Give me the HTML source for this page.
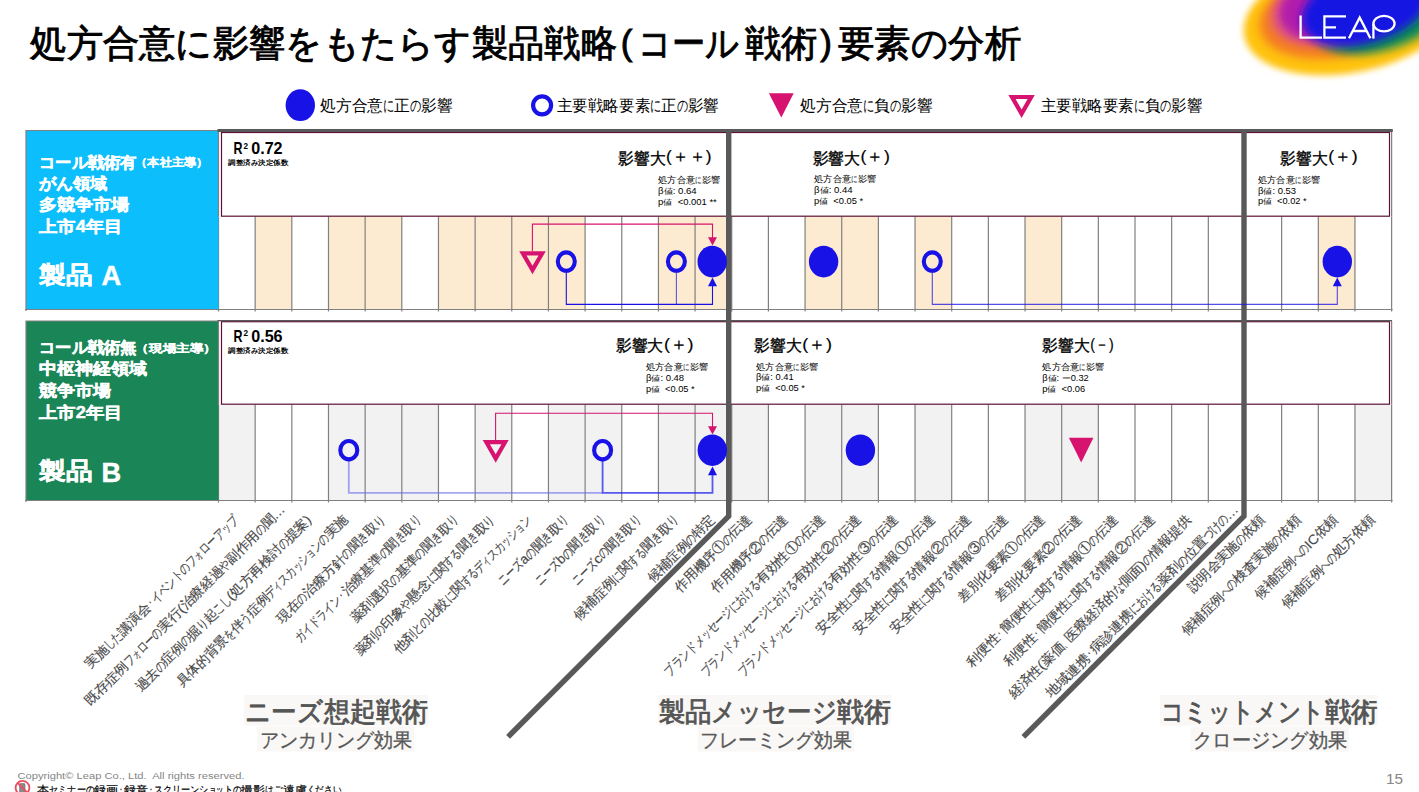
<!DOCTYPE html>
<html lang="ja"><head><meta charset="utf-8"><title>slide</title>
<style>
html,body{margin:0;padding:0;background:#fff;}
body{width:1419px;height:792px;overflow:hidden;font-family:"Liberation Sans",sans-serif;}
svg{display:block;font-family:"Liberation Sans",sans-serif;}
text{white-space:pre;}
</style></head><body>
<svg width="1419" height="792" viewBox="0 0 1419 792">
<defs>
<filter id="b1" x="-30%" y="-30%" width="160%" height="160%"><feGaussianBlur stdDeviation="7"/></filter>
<filter id="b2" x="-30%" y="-30%" width="160%" height="160%"><feGaussianBlur stdDeviation="5"/></filter>
<filter id="b3" x="-30%" y="-30%" width="160%" height="160%"><feGaussianBlur stdDeviation="4"/></filter>
<filter id="b4" x="-30%" y="-30%" width="160%" height="160%"><feGaussianBlur stdDeviation="3.2"/></filter>
</defs>
<ellipse cx="1352" cy="14" rx="110" ry="58" transform="rotate(-12 1352 14)" fill="#FFC30F" filter="url(#b4)"/>
<ellipse cx="1340" cy="12" rx="82" ry="44" transform="rotate(-13 1340 12)" fill="#F47D22" filter="url(#b2)"/>
<ellipse cx="1378" cy="10" rx="72" ry="41" transform="rotate(-16 1378 10)" fill="#118A58" filter="url(#b3)"/>
<ellipse cx="1343" cy="2" rx="75" ry="40" transform="rotate(-17 1343 2)" fill="#E45C78" filter="url(#b3)"/>
<ellipse cx="1346" cy="0" rx="69" ry="38" transform="rotate(-17 1346 0)" fill="#B21CAC" filter="url(#b3)"/>
<ellipse cx="1366" cy="6" rx="66" ry="37" transform="rotate(-17 1366 6)" fill="#1717E2" filter="url(#b3)"/>
<g fill="none" stroke="#fff" stroke-width="2.3" stroke-linejoin="miter">
<path d="M1300.6 15.4V37.6H1322"/>
<path d="M1346 16.4H1324.4V37.6H1346M1324.4 27.4H1336"/>
<path d="M1349 38.2L1359.7 17.6L1370.4 38.2M1352.6 31H1366.8"/>
<path d="M1373.4 38.6V23.6"/><ellipse cx="1384" cy="23.6" rx="10.6" ry="7.8"/>
</g>
<text x="30.3" y="56.4" font-size="37" fill="#000" font-weight="normal" text-anchor="start" textLength="586.5" lengthAdjust="spacingAndGlyphs" stroke="#000" stroke-width="0.9">処方合意に影響をもたらす製品戦略</text>
<text x="620.8" y="55.4" font-size="35" fill="#000" font-weight="normal" text-anchor="start" stroke="#000" stroke-width="0.9">(</text>
<text x="638.0" y="56.4" font-size="37" fill="#000" font-weight="normal" text-anchor="start" textLength="101.5" lengthAdjust="spacingAndGlyphs" stroke="#000" stroke-width="0.9">コール</text>
<text x="744.5" y="56.4" font-size="37" fill="#000" font-weight="normal" text-anchor="start" textLength="72.5" lengthAdjust="spacingAndGlyphs" stroke="#000" stroke-width="0.9">戦術</text>
<text x="820.3" y="55.4" font-size="35" fill="#000" font-weight="normal" text-anchor="start" stroke="#000" stroke-width="0.9">)</text>
<text x="838.0" y="56.4" font-size="37" fill="#000" font-weight="normal" text-anchor="start" textLength="183.0" lengthAdjust="spacingAndGlyphs" stroke="#000" stroke-width="0.9">要素の分析</text>
<ellipse cx="300.3" cy="105.2" rx="14.7" ry="15.9" fill="#1812E6"/>
<text x="320.3" y="111.0" font-size="15.7" fill="#000" font-weight="normal" textLength="62.7" lengthAdjust="spacingAndGlyphs">処方合意</text>
<text x="383.0" y="111.0" font-size="15.7" fill="#000" font-weight="normal" textLength="11.3" lengthAdjust="spacingAndGlyphs">に</text>
<text x="394.3" y="111.0" font-size="15.7" fill="#000" font-weight="normal" textLength="15.7" lengthAdjust="spacingAndGlyphs">正</text>
<text x="410.0" y="111.0" font-size="15.7" fill="#000" font-weight="normal" textLength="11.3" lengthAdjust="spacingAndGlyphs">の</text>
<text x="421.3" y="111.0" font-size="15.7" fill="#000" font-weight="normal" textLength="31.4" lengthAdjust="spacingAndGlyphs">影響</text>
<ellipse cx="542.1" cy="105.3" rx="9.0" ry="9.0" fill="none" stroke="#1812E6" stroke-width="4.2"/>
<text x="556.9" y="111.0" font-size="15.7" fill="#000" font-weight="normal" textLength="93.2" lengthAdjust="spacingAndGlyphs">主要戦略要素</text>
<text x="650.1" y="111.0" font-size="15.7" fill="#000" font-weight="normal" textLength="11.2" lengthAdjust="spacingAndGlyphs">に</text>
<text x="661.2" y="111.0" font-size="15.7" fill="#000" font-weight="normal" textLength="15.5" lengthAdjust="spacingAndGlyphs">正</text>
<text x="676.8" y="111.0" font-size="15.7" fill="#000" font-weight="normal" textLength="11.2" lengthAdjust="spacingAndGlyphs">の</text>
<text x="687.9" y="111.0" font-size="15.7" fill="#000" font-weight="normal" textLength="31.1" lengthAdjust="spacingAndGlyphs">影響</text>
<path d="M768.9 93.2H793.7L781.3 117.4Z" fill="#D6136E"/>
<text x="800.3" y="111.0" font-size="15.7" fill="#000" font-weight="normal" textLength="62.7" lengthAdjust="spacingAndGlyphs">処方合意</text>
<text x="863.0" y="111.0" font-size="15.7" fill="#000" font-weight="normal" textLength="11.3" lengthAdjust="spacingAndGlyphs">に</text>
<text x="874.3" y="111.0" font-size="15.7" fill="#000" font-weight="normal" textLength="15.7" lengthAdjust="spacingAndGlyphs">負</text>
<text x="890.0" y="111.0" font-size="15.7" fill="#000" font-weight="normal" textLength="11.3" lengthAdjust="spacingAndGlyphs">の</text>
<text x="901.3" y="111.0" font-size="15.7" fill="#000" font-weight="normal" textLength="31.4" lengthAdjust="spacingAndGlyphs">影響</text>
<path fill-rule="evenodd" fill="#D6136E" d="M1008.4 94.9H1034.8L1021.6 118.1Z M1015.6 99.1L1021.6 109.6L1027.6 99.1Z"/>
<text x="1040.5" y="111.0" font-size="15.7" fill="#000" font-weight="normal" textLength="93.0" lengthAdjust="spacingAndGlyphs">主要戦略要素</text>
<text x="1133.5" y="111.0" font-size="15.7" fill="#000" font-weight="normal" textLength="11.2" lengthAdjust="spacingAndGlyphs">に</text>
<text x="1144.6" y="111.0" font-size="15.7" fill="#000" font-weight="normal" textLength="15.5" lengthAdjust="spacingAndGlyphs">負</text>
<text x="1160.1" y="111.0" font-size="15.7" fill="#000" font-weight="normal" textLength="11.2" lengthAdjust="spacingAndGlyphs">の</text>
<text x="1171.3" y="111.0" font-size="15.7" fill="#000" font-weight="normal" textLength="31.0" lengthAdjust="spacingAndGlyphs">影響</text>
<rect x="255.16" y="216.5" width="36.66" height="93.0" fill="#FDEBD1"/>
<rect x="328.48" y="216.5" width="36.66" height="93.0" fill="#FDEBD1"/>
<rect x="365.14" y="216.5" width="36.66" height="93.0" fill="#FDEBD1"/>
<rect x="438.46" y="216.5" width="36.66" height="93.0" fill="#FDEBD1"/>
<rect x="475.12" y="216.5" width="36.66" height="93.0" fill="#FDEBD1"/>
<rect x="511.78" y="216.5" width="36.66" height="93.0" fill="#FDEBD1"/>
<rect x="548.44" y="216.5" width="36.66" height="93.0" fill="#FDEBD1"/>
<rect x="658.42" y="216.5" width="36.66" height="93.0" fill="#FDEBD1"/>
<rect x="695.08" y="216.5" width="36.66" height="93.0" fill="#FDEBD1"/>
<rect x="805.06" y="216.5" width="36.66" height="93.0" fill="#FDEBD1"/>
<rect x="841.72" y="216.5" width="36.66" height="93.0" fill="#FDEBD1"/>
<rect x="915.04" y="216.5" width="36.66" height="93.0" fill="#FDEBD1"/>
<rect x="1025.02" y="216.5" width="36.66" height="93.0" fill="#FDEBD1"/>
<rect x="1318.30" y="216.5" width="36.66" height="93.0" fill="#FDEBD1"/>
<path d="M218.50 216.5V311.5M255.16 216.5V311.5M291.82 216.5V311.5M328.48 216.5V311.5M365.14 216.5V311.5M401.80 216.5V311.5M438.46 216.5V311.5M475.12 216.5V311.5M511.78 216.5V311.5M548.44 216.5V311.5M585.10 216.5V311.5M621.76 216.5V311.5M658.42 216.5V311.5M695.08 216.5V311.5M731.74 216.5V311.5M768.40 216.5V311.5M805.06 216.5V311.5M841.72 216.5V311.5M878.38 216.5V311.5M915.04 216.5V311.5M951.70 216.5V311.5M988.36 216.5V311.5M1025.02 216.5V311.5M1061.68 216.5V311.5M1098.34 216.5V311.5M1135.00 216.5V311.5M1171.66 216.5V311.5M1208.32 216.5V311.5M1244.98 216.5V311.5M1281.64 216.5V311.5M1318.30 216.5V311.5M1354.96 216.5V311.5M1391.62 216.5V311.5" stroke="#808080" stroke-width="1.2" fill="none"/>
<rect x="26" y="130.5" width="192.5" height="179.0" fill="#0CBEFB"/>
<path d="M26 311.0V130.5H218.5" stroke="#808080" stroke-width="1.2" fill="none"/>
<path d="M25 309.5H1392.62" stroke="#808080" stroke-width="1.2" fill="none"/>
<path d="M218.5 130.5V216.5M1391.62 130.5V216.5" stroke="#808080" stroke-width="1.2" fill="none"/>
<rect x="221.5" y="132.5" width="1168.0" height="83.7" fill="#fff" stroke="#5E1034" stroke-width="1.2"/>
<rect x="218.50" y="404.5" width="36.66" height="96.0" fill="#F2F2F2"/>
<rect x="328.48" y="404.5" width="36.66" height="96.0" fill="#F2F2F2"/>
<rect x="365.14" y="404.5" width="36.66" height="96.0" fill="#F2F2F2"/>
<rect x="401.80" y="404.5" width="36.66" height="96.0" fill="#F2F2F2"/>
<rect x="475.12" y="404.5" width="36.66" height="96.0" fill="#F2F2F2"/>
<rect x="548.44" y="404.5" width="36.66" height="96.0" fill="#F2F2F2"/>
<rect x="585.10" y="404.5" width="36.66" height="96.0" fill="#F2F2F2"/>
<rect x="658.42" y="404.5" width="36.66" height="96.0" fill="#F2F2F2"/>
<rect x="695.08" y="404.5" width="36.66" height="96.0" fill="#F2F2F2"/>
<rect x="731.74" y="404.5" width="36.66" height="96.0" fill="#F2F2F2"/>
<rect x="805.06" y="404.5" width="36.66" height="96.0" fill="#F2F2F2"/>
<rect x="841.72" y="404.5" width="36.66" height="96.0" fill="#F2F2F2"/>
<rect x="915.04" y="404.5" width="36.66" height="96.0" fill="#F2F2F2"/>
<rect x="1025.02" y="404.5" width="36.66" height="96.0" fill="#F2F2F2"/>
<rect x="1061.68" y="404.5" width="36.66" height="96.0" fill="#F2F2F2"/>
<rect x="1354.96" y="404.5" width="36.66" height="96.0" fill="#F2F2F2"/>
<path d="M218.50 404.5V502.5M255.16 404.5V502.5M291.82 404.5V502.5M328.48 404.5V502.5M365.14 404.5V502.5M401.80 404.5V502.5M438.46 404.5V502.5M475.12 404.5V502.5M511.78 404.5V502.5M548.44 404.5V502.5M585.10 404.5V502.5M621.76 404.5V502.5M658.42 404.5V502.5M695.08 404.5V502.5M731.74 404.5V502.5M768.40 404.5V502.5M805.06 404.5V502.5M841.72 404.5V502.5M878.38 404.5V502.5M915.04 404.5V502.5M951.70 404.5V502.5M988.36 404.5V502.5M1025.02 404.5V502.5M1061.68 404.5V502.5M1098.34 404.5V502.5M1135.00 404.5V502.5M1171.66 404.5V502.5M1208.32 404.5V502.5M1244.98 404.5V502.5M1281.64 404.5V502.5M1318.30 404.5V502.5M1354.96 404.5V502.5M1391.62 404.5V502.5" stroke="#808080" stroke-width="1.2" fill="none"/>
<rect x="26" y="321.0" width="192.5" height="179.5" fill="#1A8657"/>
<path d="M26 502.0V321.0H218.5" stroke="#808080" stroke-width="1.2" fill="none"/>
<path d="M25 500.5H1392.62" stroke="#808080" stroke-width="1.2" fill="none"/>
<path d="M218.5 321.0V404.5M1391.62 321.0V404.5" stroke="#808080" stroke-width="1.2" fill="none"/>
<rect x="221.5" y="321.7" width="1168.0" height="82.5" fill="#fff" stroke="#5E1034" stroke-width="1.2"/>
<path d="M217.5 130.5H1392.8" stroke="#595959" stroke-width="3.2" fill="none"/>
<path d="M217.5 320.6H1392" stroke="#595959" stroke-width="1.4" fill="none"/>
<path d="M728.7 130V516.2L508.1 736.8" stroke="#595959" stroke-width="5.4" fill="none" stroke-linejoin="miter"/>
<path d="M1244.0 130V516.2L1023.4 736.8" stroke="#595959" stroke-width="5.4" fill="none" stroke-linejoin="miter"/>
<path d="M532.4 251V224.1H712.5V238" stroke="#D6136E" stroke-width="1.1" fill="none"/>
<path d="M708 237.2H717L712.5 245.6Z" fill="#D6136E"/>
<path d="M566.3 272V304.4H712.5V285" stroke="#1812E6" stroke-width="1.1" fill="none"/>
<path d="M676.4 272V304.4" stroke="#1812E6" stroke-width="1.1" fill="none" opacity=".7"/>
<path d="M708 286.2H717L712.5 277.6Z" fill="#1812E6"/>
<path d="M932.3 272V304.4H1337.3V286" stroke="#1812E6" stroke-width="1.1" fill="none" opacity=".75"/>
<path d="M1332.8 286.2H1341.8L1337.3 277.6Z" fill="#1812E6"/>
<path fill-rule="evenodd" fill="#D6136E" d="M519.2 251.2H545.8L532.5 274.2Z M526.5 255.4L532.5 265.8L538.5 255.4Z"/>
<ellipse cx="566.3" cy="261.6" rx="8.5" ry="9.2" fill="none" stroke="#1812E6" stroke-width="4.1"/>
<ellipse cx="676.4" cy="261.6" rx="8.5" ry="9.2" fill="none" stroke="#1812E6" stroke-width="4.1"/>
<ellipse cx="712.2" cy="261.6" rx="14.7" ry="15.8" fill="#1812E6"/>
<ellipse cx="823.6" cy="261.6" rx="14.7" ry="15.8" fill="#1812E6"/>
<ellipse cx="932.3" cy="261.6" rx="8.5" ry="9.2" fill="none" stroke="#1812E6" stroke-width="4.1"/>
<ellipse cx="1337.3" cy="261.6" rx="14.7" ry="15.8" fill="#1812E6"/>
<path d="M495.6 440V413.2H712.5V427" stroke="#D6136E" stroke-width="1.1" fill="none"/>
<path d="M708 426.2H717L712.5 434.4Z" fill="#D6136E"/>
<path d="M348.8 461V492.9H602.6" stroke="#6B6BF0" stroke-width="1.8" fill="none" opacity=".6"/>
<path d="M602.6 461V492.9H712.5V474" stroke="#3030EE" stroke-width="1.8" fill="none" opacity=".8"/>
<path d="M708 475.2H717L712.5 466.4Z" fill="#1812E6"/>
<ellipse cx="348.8" cy="450.2" rx="8.5" ry="9.2" fill="none" stroke="#1812E6" stroke-width="4.1"/>
<path fill-rule="evenodd" fill="#D6136E" d="M482.7 440.0H508.7L495.7 462.8Z M489.9 444.2L495.7 454.3L501.5 444.2Z"/>
<ellipse cx="602.6" cy="450.2" rx="8.5" ry="9.2" fill="none" stroke="#1812E6" stroke-width="4.1"/>
<ellipse cx="712.3" cy="450.2" rx="14.7" ry="15.8" fill="#1812E6"/>
<ellipse cx="860.4" cy="450.2" rx="14.7" ry="15.8" fill="#1812E6"/>
<path d="M1068.9 437.8H1093.4L1081.2 462.6Z" fill="#D6136E"/>
<text x="39.0" y="167.9" font-size="15.8" fill="#fff" font-weight="bold" text-anchor="start" textLength="97.5" lengthAdjust="spacingAndGlyphs" stroke="#fff" stroke-width="0.45">コール戦術有</text>
<text x="135.3" y="166.3" font-size="11.3" fill="#fff" font-weight="bold" text-anchor="start" textLength="73.0" lengthAdjust="spacingAndGlyphs" stroke="#fff" stroke-width="0.25">（本社主導）</text>
<text x="39.0" y="188.9" font-size="15.8" fill="#fff" font-weight="bold" text-anchor="start" textLength="68.5" lengthAdjust="spacingAndGlyphs" stroke="#fff" stroke-width="0.45">がん領域</text>
<text x="39.0" y="210.2" font-size="15.8" fill="#fff" font-weight="bold" text-anchor="start" textLength="90.5" lengthAdjust="spacingAndGlyphs" stroke="#fff" stroke-width="0.45">多競争市場</text>
<text x="39.0" y="232.1" font-size="15.8" fill="#fff" font-weight="bold" text-anchor="start" textLength="83.5" lengthAdjust="spacingAndGlyphs" stroke="#fff" stroke-width="0.45">上市4年目</text>
<text x="39.3" y="282.6" font-size="23.6" fill="#fff" font-weight="bold" text-anchor="start" textLength="53.5" lengthAdjust="spacingAndGlyphs" stroke="#fff" stroke-width="0.45">製品</text>
<text x="101.6" y="285.2" font-size="27.2" fill="#fff" font-weight="bold" text-anchor="start" stroke="#fff" stroke-width="0.45">A</text>
<text x="39.0" y="353.4" font-size="15.8" fill="#fff" font-weight="bold" text-anchor="start" textLength="97.5" lengthAdjust="spacingAndGlyphs" stroke="#fff" stroke-width="0.45">コール戦術無</text>
<text x="135.3" y="351.8" font-size="11.3" fill="#fff" font-weight="bold" text-anchor="start" textLength="81.7" lengthAdjust="spacingAndGlyphs" stroke="#fff" stroke-width="0.25">（現場主導）</text>
<text x="39.0" y="374.4" font-size="15.8" fill="#fff" font-weight="bold" text-anchor="start" textLength="108.0" lengthAdjust="spacingAndGlyphs" stroke="#fff" stroke-width="0.45">中枢神経領域</text>
<text x="39.0" y="395.7" font-size="15.8" fill="#fff" font-weight="bold" text-anchor="start" textLength="72.0" lengthAdjust="spacingAndGlyphs" stroke="#fff" stroke-width="0.45">競争市場</text>
<text x="39.0" y="417.6" font-size="15.8" fill="#fff" font-weight="bold" text-anchor="start" textLength="83.5" lengthAdjust="spacingAndGlyphs" stroke="#fff" stroke-width="0.45">上市2年目</text>
<text x="39.3" y="479.0" font-size="23.6" fill="#fff" font-weight="bold" text-anchor="start" textLength="53.5" lengthAdjust="spacingAndGlyphs" stroke="#fff" stroke-width="0.45">製品</text>
<text x="101.6" y="481.6" font-size="27.2" fill="#fff" font-weight="bold" text-anchor="start" stroke="#fff" stroke-width="0.45">B</text>
<text x="233.6" y="154.2" font-size="16.4" fill="#000" font-weight="bold" text-anchor="start" textLength="9.0" lengthAdjust="spacingAndGlyphs">R</text>
<text x="243.6" y="148.6" font-size="8.2" fill="#000" font-weight="bold" text-anchor="start">2</text>
<text x="251.2" y="154.2" font-size="16.4" fill="#000" font-weight="bold" text-anchor="start" textLength="31.4" lengthAdjust="spacingAndGlyphs">0.72</text>
<text x="228.4" y="165.0" font-size="6.5" fill="#000" font-weight="bold" text-anchor="start" textLength="59.6" lengthAdjust="spacingAndGlyphs">調整済み決定係数</text>
<text x="233.6" y="341.8" font-size="16.4" fill="#000" font-weight="bold" text-anchor="start" textLength="9.0" lengthAdjust="spacingAndGlyphs">R</text>
<text x="243.6" y="336.2" font-size="8.2" fill="#000" font-weight="bold" text-anchor="start">2</text>
<text x="251.2" y="341.8" font-size="16.4" fill="#000" font-weight="bold" text-anchor="start" textLength="31.4" lengthAdjust="spacingAndGlyphs">0.56</text>
<text x="228.4" y="352.6" font-size="6.5" fill="#000" font-weight="bold" text-anchor="start" textLength="59.6" lengthAdjust="spacingAndGlyphs">調整済み決定係数</text>
<text x="618.0" y="164.1" font-size="16.4" fill="#000" font-weight="normal" text-anchor="start" textLength="47.4" lengthAdjust="spacingAndGlyphs" stroke="#000" stroke-width="0.35">影響大</text>
<text x="666.0" y="162.2" font-size="17.2" fill="#000" font-weight="normal" text-anchor="start" textLength="45.6" lengthAdjust="spacingAndGlyphs" stroke="#000" stroke-width="0.2">(＋＋)</text>
<text x="812.5" y="163.6" font-size="16.4" fill="#000" font-weight="normal" text-anchor="start" textLength="47.4" lengthAdjust="spacingAndGlyphs" stroke="#000" stroke-width="0.35">影響大</text>
<text x="860.5" y="161.7" font-size="17.2" fill="#000" font-weight="normal" text-anchor="start" textLength="29.3" lengthAdjust="spacingAndGlyphs" stroke="#000" stroke-width="0.2">(＋)</text>
<text x="1280.3" y="163.6" font-size="16.4" fill="#000" font-weight="normal" text-anchor="start" textLength="47.4" lengthAdjust="spacingAndGlyphs" stroke="#000" stroke-width="0.35">影響大</text>
<text x="1328.3" y="161.7" font-size="17.2" fill="#000" font-weight="normal" text-anchor="start" textLength="29.3" lengthAdjust="spacingAndGlyphs" stroke="#000" stroke-width="0.2">(＋)</text>
<text x="615.9" y="351.4" font-size="16.4" fill="#000" font-weight="normal" text-anchor="start" textLength="47.4" lengthAdjust="spacingAndGlyphs" stroke="#000" stroke-width="0.35">影響大</text>
<text x="663.9" y="349.5" font-size="17.2" fill="#000" font-weight="normal" text-anchor="start" textLength="29.7" lengthAdjust="spacingAndGlyphs" stroke="#000" stroke-width="0.2">(＋)</text>
<text x="754.3" y="351.4" font-size="16.4" fill="#000" font-weight="normal" text-anchor="start" textLength="47.4" lengthAdjust="spacingAndGlyphs" stroke="#000" stroke-width="0.35">影響大</text>
<text x="802.3" y="349.5" font-size="17.2" fill="#000" font-weight="normal" text-anchor="start" textLength="29.7" lengthAdjust="spacingAndGlyphs" stroke="#000" stroke-width="0.2">(＋)</text>
<text x="1042.3" y="351.4" font-size="16.4" fill="#000" font-weight="normal" text-anchor="start" textLength="47.4" lengthAdjust="spacingAndGlyphs" stroke="#000" stroke-width="0.35">影響大</text>
<text x="1090.3" y="349.5" font-size="17.2" fill="#000" font-weight="normal" text-anchor="start" textLength="23.3" lengthAdjust="spacingAndGlyphs" stroke="#000" stroke-width="0.2">(－)</text>
<text x="658.1" y="183.3" font-size="9.2" fill="#000" font-weight="normal" textLength="37.0" lengthAdjust="spacingAndGlyphs">処方合意</text>
<text x="695.1" y="183.3" font-size="9.2" fill="#000" font-weight="normal" textLength="6.7" lengthAdjust="spacingAndGlyphs">に</text>
<text x="701.8" y="183.3" font-size="9.2" fill="#000" font-weight="normal" textLength="18.5" lengthAdjust="spacingAndGlyphs">影響</text>
<text x="658.1" y="193.8" font-size="8.4" fill="#000" font-weight="normal" text-anchor="start" textLength="38.6" lengthAdjust="spacingAndGlyphs">β値: 0.64</text>
<text x="658.1" y="204.5" font-size="8.4" fill="#000" font-weight="normal" text-anchor="start" textLength="58.7" lengthAdjust="spacingAndGlyphs">p値  &lt;0.001 **</text>
<text x="814.0" y="182.4" font-size="9.2" fill="#000" font-weight="normal" textLength="37.0" lengthAdjust="spacingAndGlyphs">処方合意</text>
<text x="851.0" y="182.4" font-size="9.2" fill="#000" font-weight="normal" textLength="6.7" lengthAdjust="spacingAndGlyphs">に</text>
<text x="857.7" y="182.4" font-size="9.2" fill="#000" font-weight="normal" textLength="18.5" lengthAdjust="spacingAndGlyphs">影響</text>
<text x="814.0" y="192.9" font-size="8.4" fill="#000" font-weight="normal" text-anchor="start" textLength="38.6" lengthAdjust="spacingAndGlyphs">β値: 0.44</text>
<text x="814.0" y="203.6" font-size="8.4" fill="#000" font-weight="normal" text-anchor="start" textLength="49.2" lengthAdjust="spacingAndGlyphs">p値  &lt;0.05 *</text>
<text x="1257.9" y="183.2" font-size="9.2" fill="#000" font-weight="normal" textLength="37.0" lengthAdjust="spacingAndGlyphs">処方合意</text>
<text x="1294.9" y="183.2" font-size="9.2" fill="#000" font-weight="normal" textLength="6.7" lengthAdjust="spacingAndGlyphs">に</text>
<text x="1301.6" y="183.2" font-size="9.2" fill="#000" font-weight="normal" textLength="18.5" lengthAdjust="spacingAndGlyphs">影響</text>
<text x="1257.9" y="193.7" font-size="8.4" fill="#000" font-weight="normal" text-anchor="start" textLength="38.2" lengthAdjust="spacingAndGlyphs">β値: 0.53</text>
<text x="1257.9" y="204.4" font-size="8.4" fill="#000" font-weight="normal" text-anchor="start" textLength="48.8" lengthAdjust="spacingAndGlyphs">p値  &lt;0.02 *</text>
<text x="645.9" y="370.4" font-size="9.2" fill="#000" font-weight="normal" textLength="37.0" lengthAdjust="spacingAndGlyphs">処方合意</text>
<text x="682.9" y="370.4" font-size="9.2" fill="#000" font-weight="normal" textLength="6.7" lengthAdjust="spacingAndGlyphs">に</text>
<text x="689.6" y="370.4" font-size="9.2" fill="#000" font-weight="normal" textLength="18.5" lengthAdjust="spacingAndGlyphs">影響</text>
<text x="645.9" y="380.9" font-size="8.4" fill="#000" font-weight="normal" text-anchor="start" textLength="38.2" lengthAdjust="spacingAndGlyphs">β値: 0.48</text>
<text x="645.9" y="391.6" font-size="8.4" fill="#000" font-weight="normal" text-anchor="start" textLength="48.8" lengthAdjust="spacingAndGlyphs">p値  &lt;0.05 *</text>
<text x="756.0" y="369.6" font-size="9.2" fill="#000" font-weight="normal" textLength="37.0" lengthAdjust="spacingAndGlyphs">処方合意</text>
<text x="793.0" y="369.6" font-size="9.2" fill="#000" font-weight="normal" textLength="6.7" lengthAdjust="spacingAndGlyphs">に</text>
<text x="799.7" y="369.6" font-size="9.2" fill="#000" font-weight="normal" textLength="18.5" lengthAdjust="spacingAndGlyphs">影響</text>
<text x="756.0" y="380.1" font-size="8.4" fill="#000" font-weight="normal" text-anchor="start" textLength="37.6" lengthAdjust="spacingAndGlyphs">β値: 0.41</text>
<text x="756.0" y="390.8" font-size="8.4" fill="#000" font-weight="normal" text-anchor="start" textLength="49.0" lengthAdjust="spacingAndGlyphs">p値  &lt;0.05 *</text>
<text x="1042.3" y="370.4" font-size="9.2" fill="#000" font-weight="normal" textLength="37.0" lengthAdjust="spacingAndGlyphs">処方合意</text>
<text x="1079.3" y="370.4" font-size="9.2" fill="#000" font-weight="normal" textLength="6.7" lengthAdjust="spacingAndGlyphs">に</text>
<text x="1086.0" y="370.4" font-size="9.2" fill="#000" font-weight="normal" textLength="18.5" lengthAdjust="spacingAndGlyphs">影響</text>
<text x="1042.3" y="380.9" font-size="8.4" fill="#000" font-weight="normal" text-anchor="start" textLength="46.5" lengthAdjust="spacingAndGlyphs">β値: ー0.32</text>
<text x="1042.3" y="391.6" font-size="8.4" fill="#000" font-weight="normal" text-anchor="start" textLength="42.9" lengthAdjust="spacingAndGlyphs">p値  &lt;0.06</text>
<g transform="translate(238.8 520.7) rotate(-45)">
<text x="-210.2" y="0.0" font-size="13.3" fill="#484848" font-weight="normal" textLength="26.7" lengthAdjust="spacingAndGlyphs" stroke="#484848" stroke-width="0.15">実施</text>
<text x="-183.4" y="0.0" font-size="13.3" fill="#484848" font-weight="normal" textLength="19.3" lengthAdjust="spacingAndGlyphs" stroke="#484848" stroke-width="0.15">した</text>
<text x="-164.2" y="0.0" font-size="13.3" fill="#484848" font-weight="normal" textLength="40.1" lengthAdjust="spacingAndGlyphs" stroke="#484848" stroke-width="0.15">講演会</text>
<text x="-124.1" y="0.0" font-size="13.3" fill="#484848" font-weight="normal" textLength="6.4" lengthAdjust="spacingAndGlyphs" stroke="#484848" stroke-width="0.15">・</text>
<text x="-117.7" y="0.0" font-size="13.3" fill="#484848" font-weight="normal" textLength="40.6" lengthAdjust="spacingAndGlyphs" stroke="#484848" stroke-width="0.15">イベント</text>
<text x="-77.0" y="0.0" font-size="13.3" fill="#484848" font-weight="normal" textLength="9.6" lengthAdjust="spacingAndGlyphs" stroke="#484848" stroke-width="0.15">の</text>
<text x="-67.4" y="0.0" font-size="13.3" fill="#484848" font-weight="normal" textLength="10.2" lengthAdjust="spacingAndGlyphs" stroke="#484848" stroke-width="0.15">フ</text>
<text x="-57.2" y="0.0" font-size="13.3" fill="#484848" font-weight="normal" textLength="8.3" lengthAdjust="spacingAndGlyphs" stroke="#484848" stroke-width="0.15">ォ</text>
<text x="-48.9" y="0.0" font-size="13.3" fill="#484848" font-weight="normal" textLength="30.5" lengthAdjust="spacingAndGlyphs" stroke="#484848" stroke-width="0.15">ローア</text>
<text x="-18.5" y="0.0" font-size="13.3" fill="#484848" font-weight="normal" textLength="8.3" lengthAdjust="spacingAndGlyphs" stroke="#484848" stroke-width="0.15">ッ</text>
<text x="-10.2" y="0.0" font-size="13.3" fill="#484848" font-weight="normal" textLength="10.2" lengthAdjust="spacingAndGlyphs" stroke="#484848" stroke-width="0.15">プ</text>
</g>
<g transform="translate(285.7 510.4) rotate(-45)">
<text x="-276.1" y="0.0" font-size="13.3" fill="#484848" font-weight="normal" textLength="54.1" lengthAdjust="spacingAndGlyphs" stroke="#484848" stroke-width="0.15">既存症例</text>
<text x="-222.0" y="0.0" font-size="13.3" fill="#484848" font-weight="normal" textLength="10.3" lengthAdjust="spacingAndGlyphs" stroke="#484848" stroke-width="0.15">フ</text>
<text x="-211.7" y="0.0" font-size="13.3" fill="#484848" font-weight="normal" textLength="8.4" lengthAdjust="spacingAndGlyphs" stroke="#484848" stroke-width="0.15">ォ</text>
<text x="-203.3" y="0.0" font-size="13.3" fill="#484848" font-weight="normal" textLength="20.5" lengthAdjust="spacingAndGlyphs" stroke="#484848" stroke-width="0.15">ロー</text>
<text x="-182.8" y="0.0" font-size="13.3" fill="#484848" font-weight="normal" textLength="9.7" lengthAdjust="spacingAndGlyphs" stroke="#484848" stroke-width="0.15">の</text>
<text x="-173.0" y="0.0" font-size="13.3" fill="#484848" font-weight="normal" textLength="27.0" lengthAdjust="spacingAndGlyphs" stroke="#484848" stroke-width="0.15">実行</text>
<text x="-146.0" y="0.0" font-size="13.3" fill="#484848" font-weight="normal" textLength="4.9" lengthAdjust="spacingAndGlyphs" stroke="#484848" stroke-width="0.15">(</text>
<text x="-141.1" y="0.0" font-size="13.3" fill="#484848" font-weight="normal" textLength="54.1" lengthAdjust="spacingAndGlyphs" stroke="#484848" stroke-width="0.15">治療経過</text>
<text x="-87.1" y="0.0" font-size="13.3" fill="#484848" font-weight="normal" textLength="9.7" lengthAdjust="spacingAndGlyphs" stroke="#484848" stroke-width="0.15">や</text>
<text x="-77.3" y="0.0" font-size="13.3" fill="#484848" font-weight="normal" textLength="40.6" lengthAdjust="spacingAndGlyphs" stroke="#484848" stroke-width="0.15">副作用</text>
<text x="-36.8" y="0.0" font-size="13.3" fill="#484848" font-weight="normal" textLength="9.7" lengthAdjust="spacingAndGlyphs" stroke="#484848" stroke-width="0.15">の</text>
<text x="-27.0" y="0.0" font-size="13.3" fill="#484848" font-weight="normal" textLength="27.0" lengthAdjust="spacingAndGlyphs" stroke="#484848" stroke-width="0.15">聞…</text>
</g>
<g transform="translate(312.1 520.7) rotate(-45)">
<text x="-242.6" y="0.0" font-size="13.3" fill="#484848" font-weight="normal" textLength="26.9" lengthAdjust="spacingAndGlyphs" stroke="#484848" stroke-width="0.15">過去</text>
<text x="-215.7" y="0.0" font-size="13.3" fill="#484848" font-weight="normal" textLength="9.7" lengthAdjust="spacingAndGlyphs" stroke="#484848" stroke-width="0.15">の</text>
<text x="-206.1" y="0.0" font-size="13.3" fill="#484848" font-weight="normal" textLength="26.9" lengthAdjust="spacingAndGlyphs" stroke="#484848" stroke-width="0.15">症例</text>
<text x="-179.2" y="0.0" font-size="13.3" fill="#484848" font-weight="normal" textLength="9.7" lengthAdjust="spacingAndGlyphs" stroke="#484848" stroke-width="0.15">の</text>
<text x="-169.5" y="0.0" font-size="13.3" fill="#484848" font-weight="normal" textLength="13.5" lengthAdjust="spacingAndGlyphs" stroke="#484848" stroke-width="0.15">掘</text>
<text x="-156.0" y="0.0" font-size="13.3" fill="#484848" font-weight="normal" textLength="9.7" lengthAdjust="spacingAndGlyphs" stroke="#484848" stroke-width="0.15">り</text>
<text x="-146.3" y="0.0" font-size="13.3" fill="#484848" font-weight="normal" textLength="13.5" lengthAdjust="spacingAndGlyphs" stroke="#484848" stroke-width="0.15">起</text>
<text x="-132.9" y="0.0" font-size="13.3" fill="#484848" font-weight="normal" textLength="19.4" lengthAdjust="spacingAndGlyphs" stroke="#484848" stroke-width="0.15">こし</text>
<text x="-113.5" y="0.0" font-size="13.3" fill="#484848" font-weight="normal" textLength="4.8" lengthAdjust="spacingAndGlyphs" stroke="#484848" stroke-width="0.15">(</text>
<text x="-108.7" y="0.0" font-size="13.3" fill="#484848" font-weight="normal" textLength="67.3" lengthAdjust="spacingAndGlyphs" stroke="#484848" stroke-width="0.15">処方再検討</text>
<text x="-41.4" y="0.0" font-size="13.3" fill="#484848" font-weight="normal" textLength="9.7" lengthAdjust="spacingAndGlyphs" stroke="#484848" stroke-width="0.15">の</text>
<text x="-31.7" y="0.0" font-size="13.3" fill="#484848" font-weight="normal" textLength="26.9" lengthAdjust="spacingAndGlyphs" stroke="#484848" stroke-width="0.15">提案</text>
<text x="-4.8" y="0.0" font-size="13.3" fill="#484848" font-weight="normal" textLength="4.8" lengthAdjust="spacingAndGlyphs" stroke="#484848" stroke-width="0.15">)</text>
</g>
<g transform="translate(348.8 520.7) rotate(-45)">
<text x="-235.9" y="0.0" font-size="13.3" fill="#484848" font-weight="normal" textLength="66.2" lengthAdjust="spacingAndGlyphs" stroke="#484848" stroke-width="0.15">具体的背景</text>
<text x="-169.7" y="0.0" font-size="13.3" fill="#484848" font-weight="normal" textLength="9.5" lengthAdjust="spacingAndGlyphs" stroke="#484848" stroke-width="0.15">を</text>
<text x="-160.2" y="0.0" font-size="13.3" fill="#484848" font-weight="normal" textLength="13.2" lengthAdjust="spacingAndGlyphs" stroke="#484848" stroke-width="0.15">伴</text>
<text x="-146.9" y="0.0" font-size="13.3" fill="#484848" font-weight="normal" textLength="9.5" lengthAdjust="spacingAndGlyphs" stroke="#484848" stroke-width="0.15">う</text>
<text x="-137.4" y="0.0" font-size="13.3" fill="#484848" font-weight="normal" textLength="26.5" lengthAdjust="spacingAndGlyphs" stroke="#484848" stroke-width="0.15">症例</text>
<text x="-110.9" y="0.0" font-size="13.3" fill="#484848" font-weight="normal" textLength="10.1" lengthAdjust="spacingAndGlyphs" stroke="#484848" stroke-width="0.15">デ</text>
<text x="-100.9" y="0.0" font-size="13.3" fill="#484848" font-weight="normal" textLength="8.2" lengthAdjust="spacingAndGlyphs" stroke="#484848" stroke-width="0.15">ィ</text>
<text x="-92.7" y="0.0" font-size="13.3" fill="#484848" font-weight="normal" textLength="20.1" lengthAdjust="spacingAndGlyphs" stroke="#484848" stroke-width="0.15">スカ</text>
<text x="-72.5" y="0.0" font-size="13.3" fill="#484848" font-weight="normal" textLength="8.2" lengthAdjust="spacingAndGlyphs" stroke="#484848" stroke-width="0.15">ッ</text>
<text x="-64.3" y="0.0" font-size="13.3" fill="#484848" font-weight="normal" textLength="10.1" lengthAdjust="spacingAndGlyphs" stroke="#484848" stroke-width="0.15">シ</text>
<text x="-54.3" y="0.0" font-size="13.3" fill="#484848" font-weight="normal" textLength="8.2" lengthAdjust="spacingAndGlyphs" stroke="#484848" stroke-width="0.15">ョ</text>
<text x="-46.1" y="0.0" font-size="13.3" fill="#484848" font-weight="normal" textLength="10.1" lengthAdjust="spacingAndGlyphs" stroke="#484848" stroke-width="0.15">ン</text>
<text x="-36.0" y="0.0" font-size="13.3" fill="#484848" font-weight="normal" textLength="9.5" lengthAdjust="spacingAndGlyphs" stroke="#484848" stroke-width="0.15">の</text>
<text x="-26.5" y="0.0" font-size="13.3" fill="#484848" font-weight="normal" textLength="26.5" lengthAdjust="spacingAndGlyphs" stroke="#484848" stroke-width="0.15">実施</text>
</g>
<g transform="translate(385.5 520.7) rotate(-45)">
<text x="-145.9" y="0.0" font-size="13.3" fill="#484848" font-weight="normal" textLength="26.8" lengthAdjust="spacingAndGlyphs" stroke="#484848" stroke-width="0.15">現在</text>
<text x="-119.1" y="0.0" font-size="13.3" fill="#484848" font-weight="normal" textLength="9.7" lengthAdjust="spacingAndGlyphs" stroke="#484848" stroke-width="0.15">の</text>
<text x="-109.4" y="0.0" font-size="13.3" fill="#484848" font-weight="normal" textLength="53.7" lengthAdjust="spacingAndGlyphs" stroke="#484848" stroke-width="0.15">治療方針</text>
<text x="-55.8" y="0.0" font-size="13.3" fill="#484848" font-weight="normal" textLength="9.7" lengthAdjust="spacingAndGlyphs" stroke="#484848" stroke-width="0.15">の</text>
<text x="-46.1" y="0.0" font-size="13.3" fill="#484848" font-weight="normal" textLength="13.4" lengthAdjust="spacingAndGlyphs" stroke="#484848" stroke-width="0.15">聞</text>
<text x="-32.7" y="0.0" font-size="13.3" fill="#484848" font-weight="normal" textLength="9.7" lengthAdjust="spacingAndGlyphs" stroke="#484848" stroke-width="0.15">き</text>
<text x="-23.1" y="0.0" font-size="13.3" fill="#484848" font-weight="normal" textLength="13.4" lengthAdjust="spacingAndGlyphs" stroke="#484848" stroke-width="0.15">取</text>
<text x="-9.7" y="0.0" font-size="13.3" fill="#484848" font-weight="normal" textLength="9.7" lengthAdjust="spacingAndGlyphs" stroke="#484848" stroke-width="0.15">り</text>
</g>
<g transform="translate(422.1 520.7) rotate(-45)">
<text x="-172.5" y="0.0" font-size="13.3" fill="#484848" font-weight="normal" textLength="59.6" lengthAdjust="spacingAndGlyphs" stroke="#484848" stroke-width="0.15">ガイドライン</text>
<text x="-112.9" y="0.0" font-size="13.3" fill="#484848" font-weight="normal" textLength="6.3" lengthAdjust="spacingAndGlyphs" stroke="#484848" stroke-width="0.15">・</text>
<text x="-106.6" y="0.0" font-size="13.3" fill="#484848" font-weight="normal" textLength="52.3" lengthAdjust="spacingAndGlyphs" stroke="#484848" stroke-width="0.15">治療基準</text>
<text x="-54.4" y="0.0" font-size="13.3" fill="#484848" font-weight="normal" textLength="9.4" lengthAdjust="spacingAndGlyphs" stroke="#484848" stroke-width="0.15">の</text>
<text x="-45.0" y="0.0" font-size="13.3" fill="#484848" font-weight="normal" textLength="13.1" lengthAdjust="spacingAndGlyphs" stroke="#484848" stroke-width="0.15">聞</text>
<text x="-31.9" y="0.0" font-size="13.3" fill="#484848" font-weight="normal" textLength="9.4" lengthAdjust="spacingAndGlyphs" stroke="#484848" stroke-width="0.15">き</text>
<text x="-22.5" y="0.0" font-size="13.3" fill="#484848" font-weight="normal" textLength="13.1" lengthAdjust="spacingAndGlyphs" stroke="#484848" stroke-width="0.15">取</text>
<text x="-9.4" y="0.0" font-size="13.3" fill="#484848" font-weight="normal" textLength="9.4" lengthAdjust="spacingAndGlyphs" stroke="#484848" stroke-width="0.15">り</text>
</g>
<g transform="translate(458.8 520.7) rotate(-45)">
<text x="-145.3" y="0.0" font-size="13.3" fill="#484848" font-weight="normal" textLength="53.4" lengthAdjust="spacingAndGlyphs" stroke="#484848" stroke-width="0.15">薬剤選択</text>
<text x="-91.9" y="0.0" font-size="13.3" fill="#484848" font-weight="normal" textLength="9.6" lengthAdjust="spacingAndGlyphs" stroke="#484848" stroke-width="0.15">の</text>
<text x="-82.3" y="0.0" font-size="13.3" fill="#484848" font-weight="normal" textLength="26.7" lengthAdjust="spacingAndGlyphs" stroke="#484848" stroke-width="0.15">基準</text>
<text x="-55.6" y="0.0" font-size="13.3" fill="#484848" font-weight="normal" textLength="9.6" lengthAdjust="spacingAndGlyphs" stroke="#484848" stroke-width="0.15">の</text>
<text x="-45.9" y="0.0" font-size="13.3" fill="#484848" font-weight="normal" textLength="13.4" lengthAdjust="spacingAndGlyphs" stroke="#484848" stroke-width="0.15">聞</text>
<text x="-32.6" y="0.0" font-size="13.3" fill="#484848" font-weight="normal" textLength="9.6" lengthAdjust="spacingAndGlyphs" stroke="#484848" stroke-width="0.15">き</text>
<text x="-23.0" y="0.0" font-size="13.3" fill="#484848" font-weight="normal" textLength="13.4" lengthAdjust="spacingAndGlyphs" stroke="#484848" stroke-width="0.15">取</text>
<text x="-9.6" y="0.0" font-size="13.3" fill="#484848" font-weight="normal" textLength="9.6" lengthAdjust="spacingAndGlyphs" stroke="#484848" stroke-width="0.15">り</text>
</g>
<g transform="translate(495.4 520.7) rotate(-45)">
<text x="-191.9" y="0.0" font-size="13.3" fill="#484848" font-weight="normal" textLength="27.3" lengthAdjust="spacingAndGlyphs" stroke="#484848" stroke-width="0.15">薬剤</text>
<text x="-164.6" y="0.0" font-size="13.3" fill="#484848" font-weight="normal" textLength="9.8" lengthAdjust="spacingAndGlyphs" stroke="#484848" stroke-width="0.15">の</text>
<text x="-154.8" y="0.0" font-size="13.3" fill="#484848" font-weight="normal" textLength="27.3" lengthAdjust="spacingAndGlyphs" stroke="#484848" stroke-width="0.15">印象</text>
<text x="-127.4" y="0.0" font-size="13.3" fill="#484848" font-weight="normal" textLength="9.8" lengthAdjust="spacingAndGlyphs" stroke="#484848" stroke-width="0.15">や</text>
<text x="-117.6" y="0.0" font-size="13.3" fill="#484848" font-weight="normal" textLength="27.3" lengthAdjust="spacingAndGlyphs" stroke="#484848" stroke-width="0.15">懸念</text>
<text x="-90.2" y="0.0" font-size="13.3" fill="#484848" font-weight="normal" textLength="9.8" lengthAdjust="spacingAndGlyphs" stroke="#484848" stroke-width="0.15">に</text>
<text x="-80.4" y="0.0" font-size="13.3" fill="#484848" font-weight="normal" textLength="13.7" lengthAdjust="spacingAndGlyphs" stroke="#484848" stroke-width="0.15">関</text>
<text x="-66.7" y="0.0" font-size="13.3" fill="#484848" font-weight="normal" textLength="19.7" lengthAdjust="spacingAndGlyphs" stroke="#484848" stroke-width="0.15">する</text>
<text x="-47.0" y="0.0" font-size="13.3" fill="#484848" font-weight="normal" textLength="13.7" lengthAdjust="spacingAndGlyphs" stroke="#484848" stroke-width="0.15">聞</text>
<text x="-33.4" y="0.0" font-size="13.3" fill="#484848" font-weight="normal" textLength="9.8" lengthAdjust="spacingAndGlyphs" stroke="#484848" stroke-width="0.15">き</text>
<text x="-23.5" y="0.0" font-size="13.3" fill="#484848" font-weight="normal" textLength="13.7" lengthAdjust="spacingAndGlyphs" stroke="#484848" stroke-width="0.15">取</text>
<text x="-9.8" y="0.0" font-size="13.3" fill="#484848" font-weight="normal" textLength="9.8" lengthAdjust="spacingAndGlyphs" stroke="#484848" stroke-width="0.15">り</text>
</g>
<g transform="translate(532.1 520.7) rotate(-45)">
<text x="-188.7" y="0.0" font-size="13.3" fill="#484848" font-weight="normal" textLength="26.5" lengthAdjust="spacingAndGlyphs" stroke="#484848" stroke-width="0.15">他剤</text>
<text x="-162.3" y="0.0" font-size="13.3" fill="#484848" font-weight="normal" textLength="19.1" lengthAdjust="spacingAndGlyphs" stroke="#484848" stroke-width="0.15">との</text>
<text x="-143.2" y="0.0" font-size="13.3" fill="#484848" font-weight="normal" textLength="26.5" lengthAdjust="spacingAndGlyphs" stroke="#484848" stroke-width="0.15">比較</text>
<text x="-116.7" y="0.0" font-size="13.3" fill="#484848" font-weight="normal" textLength="9.5" lengthAdjust="spacingAndGlyphs" stroke="#484848" stroke-width="0.15">に</text>
<text x="-107.2" y="0.0" font-size="13.3" fill="#484848" font-weight="normal" textLength="13.2" lengthAdjust="spacingAndGlyphs" stroke="#484848" stroke-width="0.15">関</text>
<text x="-94.0" y="0.0" font-size="13.3" fill="#484848" font-weight="normal" textLength="19.1" lengthAdjust="spacingAndGlyphs" stroke="#484848" stroke-width="0.15">する</text>
<text x="-74.9" y="0.0" font-size="13.3" fill="#484848" font-weight="normal" textLength="10.1" lengthAdjust="spacingAndGlyphs" stroke="#484848" stroke-width="0.15">デ</text>
<text x="-64.9" y="0.0" font-size="13.3" fill="#484848" font-weight="normal" textLength="8.2" lengthAdjust="spacingAndGlyphs" stroke="#484848" stroke-width="0.15">ィ</text>
<text x="-56.6" y="0.0" font-size="13.3" fill="#484848" font-weight="normal" textLength="20.1" lengthAdjust="spacingAndGlyphs" stroke="#484848" stroke-width="0.15">スカ</text>
<text x="-36.5" y="0.0" font-size="13.3" fill="#484848" font-weight="normal" textLength="8.2" lengthAdjust="spacingAndGlyphs" stroke="#484848" stroke-width="0.15">ッ</text>
<text x="-28.3" y="0.0" font-size="13.3" fill="#484848" font-weight="normal" textLength="10.1" lengthAdjust="spacingAndGlyphs" stroke="#484848" stroke-width="0.15">シ</text>
<text x="-18.3" y="0.0" font-size="13.3" fill="#484848" font-weight="normal" textLength="8.2" lengthAdjust="spacingAndGlyphs" stroke="#484848" stroke-width="0.15">ョ</text>
<text x="-10.1" y="0.0" font-size="13.3" fill="#484848" font-weight="normal" textLength="10.1" lengthAdjust="spacingAndGlyphs" stroke="#484848" stroke-width="0.15">ン</text>
</g>
<g transform="translate(568.8 520.7) rotate(-45)">
<text x="-92.7" y="0.0" font-size="13.3" fill="#484848" font-weight="normal" textLength="30.2" lengthAdjust="spacingAndGlyphs" stroke="#484848" stroke-width="0.15">ニーズ</text>
<text x="-62.5" y="0.0" font-size="13.3" fill="#484848" font-weight="normal" textLength="7.4" lengthAdjust="spacingAndGlyphs" stroke="#484848" stroke-width="0.15">a</text>
<text x="-55.1" y="0.0" font-size="13.3" fill="#484848" font-weight="normal" textLength="9.5" lengthAdjust="spacingAndGlyphs" stroke="#484848" stroke-width="0.15">の</text>
<text x="-45.5" y="0.0" font-size="13.3" fill="#484848" font-weight="normal" textLength="13.2" lengthAdjust="spacingAndGlyphs" stroke="#484848" stroke-width="0.15">聞</text>
<text x="-32.3" y="0.0" font-size="13.3" fill="#484848" font-weight="normal" textLength="9.5" lengthAdjust="spacingAndGlyphs" stroke="#484848" stroke-width="0.15">き</text>
<text x="-22.8" y="0.0" font-size="13.3" fill="#484848" font-weight="normal" textLength="13.2" lengthAdjust="spacingAndGlyphs" stroke="#484848" stroke-width="0.15">取</text>
<text x="-9.5" y="0.0" font-size="13.3" fill="#484848" font-weight="normal" textLength="9.5" lengthAdjust="spacingAndGlyphs" stroke="#484848" stroke-width="0.15">り</text>
</g>
<g transform="translate(605.4 520.7) rotate(-45)">
<text x="-92.4" y="0.0" font-size="13.3" fill="#484848" font-weight="normal" textLength="30.1" lengthAdjust="spacingAndGlyphs" stroke="#484848" stroke-width="0.15">ニーズ</text>
<text x="-62.3" y="0.0" font-size="13.3" fill="#484848" font-weight="normal" textLength="7.4" lengthAdjust="spacingAndGlyphs" stroke="#484848" stroke-width="0.15">b</text>
<text x="-54.9" y="0.0" font-size="13.3" fill="#484848" font-weight="normal" textLength="9.5" lengthAdjust="spacingAndGlyphs" stroke="#484848" stroke-width="0.15">の</text>
<text x="-45.4" y="0.0" font-size="13.3" fill="#484848" font-weight="normal" textLength="13.2" lengthAdjust="spacingAndGlyphs" stroke="#484848" stroke-width="0.15">聞</text>
<text x="-32.2" y="0.0" font-size="13.3" fill="#484848" font-weight="normal" textLength="9.5" lengthAdjust="spacingAndGlyphs" stroke="#484848" stroke-width="0.15">き</text>
<text x="-22.7" y="0.0" font-size="13.3" fill="#484848" font-weight="normal" textLength="13.2" lengthAdjust="spacingAndGlyphs" stroke="#484848" stroke-width="0.15">取</text>
<text x="-9.5" y="0.0" font-size="13.3" fill="#484848" font-weight="normal" textLength="9.5" lengthAdjust="spacingAndGlyphs" stroke="#484848" stroke-width="0.15">り</text>
</g>
<g transform="translate(642.1 520.7) rotate(-45)">
<text x="-92.3" y="0.0" font-size="13.3" fill="#484848" font-weight="normal" textLength="30.1" lengthAdjust="spacingAndGlyphs" stroke="#484848" stroke-width="0.15">ニーズ</text>
<text x="-62.2" y="0.0" font-size="13.3" fill="#484848" font-weight="normal" textLength="7.4" lengthAdjust="spacingAndGlyphs" stroke="#484848" stroke-width="0.15">c</text>
<text x="-54.8" y="0.0" font-size="13.3" fill="#484848" font-weight="normal" textLength="9.5" lengthAdjust="spacingAndGlyphs" stroke="#484848" stroke-width="0.15">の</text>
<text x="-45.3" y="0.0" font-size="13.3" fill="#484848" font-weight="normal" textLength="13.2" lengthAdjust="spacingAndGlyphs" stroke="#484848" stroke-width="0.15">聞</text>
<text x="-32.2" y="0.0" font-size="13.3" fill="#484848" font-weight="normal" textLength="9.5" lengthAdjust="spacingAndGlyphs" stroke="#484848" stroke-width="0.15">き</text>
<text x="-22.7" y="0.0" font-size="13.3" fill="#484848" font-weight="normal" textLength="13.2" lengthAdjust="spacingAndGlyphs" stroke="#484848" stroke-width="0.15">取</text>
<text x="-9.5" y="0.0" font-size="13.3" fill="#484848" font-weight="normal" textLength="9.5" lengthAdjust="spacingAndGlyphs" stroke="#484848" stroke-width="0.15">り</text>
</g>
<g transform="translate(678.8 520.7) rotate(-45)">
<text x="-141.4" y="0.0" font-size="13.3" fill="#484848" font-weight="normal" textLength="53.4" lengthAdjust="spacingAndGlyphs" stroke="#484848" stroke-width="0.15">候補症例</text>
<text x="-88.0" y="0.0" font-size="13.3" fill="#484848" font-weight="normal" textLength="9.6" lengthAdjust="spacingAndGlyphs" stroke="#484848" stroke-width="0.15">に</text>
<text x="-78.4" y="0.0" font-size="13.3" fill="#484848" font-weight="normal" textLength="13.3" lengthAdjust="spacingAndGlyphs" stroke="#484848" stroke-width="0.15">関</text>
<text x="-65.1" y="0.0" font-size="13.3" fill="#484848" font-weight="normal" textLength="19.2" lengthAdjust="spacingAndGlyphs" stroke="#484848" stroke-width="0.15">する</text>
<text x="-45.9" y="0.0" font-size="13.3" fill="#484848" font-weight="normal" textLength="13.3" lengthAdjust="spacingAndGlyphs" stroke="#484848" stroke-width="0.15">聞</text>
<text x="-32.5" y="0.0" font-size="13.3" fill="#484848" font-weight="normal" textLength="9.6" lengthAdjust="spacingAndGlyphs" stroke="#484848" stroke-width="0.15">き</text>
<text x="-22.9" y="0.0" font-size="13.3" fill="#484848" font-weight="normal" textLength="13.3" lengthAdjust="spacingAndGlyphs" stroke="#484848" stroke-width="0.15">取</text>
<text x="-9.6" y="0.0" font-size="13.3" fill="#484848" font-weight="normal" textLength="9.6" lengthAdjust="spacingAndGlyphs" stroke="#484848" stroke-width="0.15">り</text>
</g>
<g transform="translate(715.4 520.7) rotate(-45)">
<text x="-88.8" y="0.0" font-size="13.3" fill="#484848" font-weight="normal" textLength="52.8" lengthAdjust="spacingAndGlyphs" stroke="#484848" stroke-width="0.15">候補症例</text>
<text x="-35.9" y="0.0" font-size="13.3" fill="#484848" font-weight="normal" textLength="9.5" lengthAdjust="spacingAndGlyphs" stroke="#484848" stroke-width="0.15">の</text>
<text x="-26.4" y="0.0" font-size="13.3" fill="#484848" font-weight="normal" textLength="26.4" lengthAdjust="spacingAndGlyphs" stroke="#484848" stroke-width="0.15">特定</text>
</g>
<g transform="translate(752.1 520.7) rotate(-45)">
<text x="-101.9" y="0.0" font-size="13.3" fill="#484848" font-weight="normal" textLength="66.0" lengthAdjust="spacingAndGlyphs" stroke="#484848" stroke-width="0.15">作用機序①</text>
<text x="-35.9" y="0.0" font-size="13.3" fill="#484848" font-weight="normal" textLength="9.5" lengthAdjust="spacingAndGlyphs" stroke="#484848" stroke-width="0.15">の</text>
<text x="-26.4" y="0.0" font-size="13.3" fill="#484848" font-weight="normal" textLength="26.4" lengthAdjust="spacingAndGlyphs" stroke="#484848" stroke-width="0.15">伝達</text>
</g>
<g transform="translate(788.7 520.7) rotate(-45)">
<text x="-102.3" y="0.0" font-size="13.3" fill="#484848" font-weight="normal" textLength="66.2" lengthAdjust="spacingAndGlyphs" stroke="#484848" stroke-width="0.15">作用機序②</text>
<text x="-36.0" y="0.0" font-size="13.3" fill="#484848" font-weight="normal" textLength="9.5" lengthAdjust="spacingAndGlyphs" stroke="#484848" stroke-width="0.15">の</text>
<text x="-26.5" y="0.0" font-size="13.3" fill="#484848" font-weight="normal" textLength="26.5" lengthAdjust="spacingAndGlyphs" stroke="#484848" stroke-width="0.15">伝達</text>
</g>
<g transform="translate(825.4 520.7) rotate(-45)">
<text x="-220.5" y="0.0" font-size="13.3" fill="#484848" font-weight="normal" textLength="51.4" lengthAdjust="spacingAndGlyphs" stroke="#484848" stroke-width="0.15">ブランドメ</text>
<text x="-169.1" y="0.0" font-size="13.3" fill="#484848" font-weight="normal" textLength="8.4" lengthAdjust="spacingAndGlyphs" stroke="#484848" stroke-width="0.15">ッ</text>
<text x="-160.7" y="0.0" font-size="13.3" fill="#484848" font-weight="normal" textLength="30.8" lengthAdjust="spacingAndGlyphs" stroke="#484848" stroke-width="0.15">セージ</text>
<text x="-129.9" y="0.0" font-size="13.3" fill="#484848" font-weight="normal" textLength="39.0" lengthAdjust="spacingAndGlyphs" stroke="#484848" stroke-width="0.15">における</text>
<text x="-90.9" y="0.0" font-size="13.3" fill="#484848" font-weight="normal" textLength="54.1" lengthAdjust="spacingAndGlyphs" stroke="#484848" stroke-width="0.15">有効性①</text>
<text x="-36.8" y="0.0" font-size="13.3" fill="#484848" font-weight="normal" textLength="9.7" lengthAdjust="spacingAndGlyphs" stroke="#484848" stroke-width="0.15">の</text>
<text x="-27.1" y="0.0" font-size="13.3" fill="#484848" font-weight="normal" textLength="27.1" lengthAdjust="spacingAndGlyphs" stroke="#484848" stroke-width="0.15">伝達</text>
</g>
<g transform="translate(862.0 520.7) rotate(-45)">
<text x="-220.9" y="0.0" font-size="13.3" fill="#484848" font-weight="normal" textLength="51.5" lengthAdjust="spacingAndGlyphs" stroke="#484848" stroke-width="0.15">ブランドメ</text>
<text x="-169.4" y="0.0" font-size="13.3" fill="#484848" font-weight="normal" textLength="8.4" lengthAdjust="spacingAndGlyphs" stroke="#484848" stroke-width="0.15">ッ</text>
<text x="-161.0" y="0.0" font-size="13.3" fill="#484848" font-weight="normal" textLength="30.9" lengthAdjust="spacingAndGlyphs" stroke="#484848" stroke-width="0.15">セージ</text>
<text x="-130.1" y="0.0" font-size="13.3" fill="#484848" font-weight="normal" textLength="39.0" lengthAdjust="spacingAndGlyphs" stroke="#484848" stroke-width="0.15">における</text>
<text x="-91.1" y="0.0" font-size="13.3" fill="#484848" font-weight="normal" textLength="54.2" lengthAdjust="spacingAndGlyphs" stroke="#484848" stroke-width="0.15">有効性②</text>
<text x="-36.9" y="0.0" font-size="13.3" fill="#484848" font-weight="normal" textLength="9.8" lengthAdjust="spacingAndGlyphs" stroke="#484848" stroke-width="0.15">の</text>
<text x="-27.1" y="0.0" font-size="13.3" fill="#484848" font-weight="normal" textLength="27.1" lengthAdjust="spacingAndGlyphs" stroke="#484848" stroke-width="0.15">伝達</text>
</g>
<g transform="translate(898.7 520.7) rotate(-45)">
<text x="-220.9" y="0.0" font-size="13.3" fill="#484848" font-weight="normal" textLength="51.5" lengthAdjust="spacingAndGlyphs" stroke="#484848" stroke-width="0.15">ブランドメ</text>
<text x="-169.4" y="0.0" font-size="13.3" fill="#484848" font-weight="normal" textLength="8.4" lengthAdjust="spacingAndGlyphs" stroke="#484848" stroke-width="0.15">ッ</text>
<text x="-161.0" y="0.0" font-size="13.3" fill="#484848" font-weight="normal" textLength="30.9" lengthAdjust="spacingAndGlyphs" stroke="#484848" stroke-width="0.15">セージ</text>
<text x="-130.1" y="0.0" font-size="13.3" fill="#484848" font-weight="normal" textLength="39.0" lengthAdjust="spacingAndGlyphs" stroke="#484848" stroke-width="0.15">における</text>
<text x="-91.1" y="0.0" font-size="13.3" fill="#484848" font-weight="normal" textLength="54.2" lengthAdjust="spacingAndGlyphs" stroke="#484848" stroke-width="0.15">有効性③</text>
<text x="-36.9" y="0.0" font-size="13.3" fill="#484848" font-weight="normal" textLength="9.8" lengthAdjust="spacingAndGlyphs" stroke="#484848" stroke-width="0.15">の</text>
<text x="-27.1" y="0.0" font-size="13.3" fill="#484848" font-weight="normal" textLength="27.1" lengthAdjust="spacingAndGlyphs" stroke="#484848" stroke-width="0.15">伝達</text>
</g>
<g transform="translate(935.4 520.7) rotate(-45)">
<text x="-161.1" y="0.0" font-size="13.3" fill="#484848" font-weight="normal" textLength="40.7" lengthAdjust="spacingAndGlyphs" stroke="#484848" stroke-width="0.15">安全性</text>
<text x="-120.4" y="0.0" font-size="13.3" fill="#484848" font-weight="normal" textLength="9.8" lengthAdjust="spacingAndGlyphs" stroke="#484848" stroke-width="0.15">に</text>
<text x="-110.7" y="0.0" font-size="13.3" fill="#484848" font-weight="normal" textLength="13.6" lengthAdjust="spacingAndGlyphs" stroke="#484848" stroke-width="0.15">関</text>
<text x="-97.1" y="0.0" font-size="13.3" fill="#484848" font-weight="normal" textLength="19.5" lengthAdjust="spacingAndGlyphs" stroke="#484848" stroke-width="0.15">する</text>
<text x="-77.6" y="0.0" font-size="13.3" fill="#484848" font-weight="normal" textLength="40.7" lengthAdjust="spacingAndGlyphs" stroke="#484848" stroke-width="0.15">情報①</text>
<text x="-36.9" y="0.0" font-size="13.3" fill="#484848" font-weight="normal" textLength="9.8" lengthAdjust="spacingAndGlyphs" stroke="#484848" stroke-width="0.15">の</text>
<text x="-27.1" y="0.0" font-size="13.3" fill="#484848" font-weight="normal" textLength="27.1" lengthAdjust="spacingAndGlyphs" stroke="#484848" stroke-width="0.15">伝達</text>
</g>
<g transform="translate(972.0 520.7) rotate(-45)">
<text x="-161.0" y="0.0" font-size="13.3" fill="#484848" font-weight="normal" textLength="40.6" lengthAdjust="spacingAndGlyphs" stroke="#484848" stroke-width="0.15">安全性</text>
<text x="-120.3" y="0.0" font-size="13.3" fill="#484848" font-weight="normal" textLength="9.8" lengthAdjust="spacingAndGlyphs" stroke="#484848" stroke-width="0.15">に</text>
<text x="-110.6" y="0.0" font-size="13.3" fill="#484848" font-weight="normal" textLength="13.5" lengthAdjust="spacingAndGlyphs" stroke="#484848" stroke-width="0.15">関</text>
<text x="-97.0" y="0.0" font-size="13.3" fill="#484848" font-weight="normal" textLength="19.5" lengthAdjust="spacingAndGlyphs" stroke="#484848" stroke-width="0.15">する</text>
<text x="-77.5" y="0.0" font-size="13.3" fill="#484848" font-weight="normal" textLength="40.6" lengthAdjust="spacingAndGlyphs" stroke="#484848" stroke-width="0.15">情報②</text>
<text x="-36.9" y="0.0" font-size="13.3" fill="#484848" font-weight="normal" textLength="9.8" lengthAdjust="spacingAndGlyphs" stroke="#484848" stroke-width="0.15">の</text>
<text x="-27.1" y="0.0" font-size="13.3" fill="#484848" font-weight="normal" textLength="27.1" lengthAdjust="spacingAndGlyphs" stroke="#484848" stroke-width="0.15">伝達</text>
</g>
<g transform="translate(1008.7 520.7) rotate(-45)">
<text x="-160.8" y="0.0" font-size="13.3" fill="#484848" font-weight="normal" textLength="40.6" lengthAdjust="spacingAndGlyphs" stroke="#484848" stroke-width="0.15">安全性</text>
<text x="-120.2" y="0.0" font-size="13.3" fill="#484848" font-weight="normal" textLength="9.7" lengthAdjust="spacingAndGlyphs" stroke="#484848" stroke-width="0.15">に</text>
<text x="-110.4" y="0.0" font-size="13.3" fill="#484848" font-weight="normal" textLength="13.5" lengthAdjust="spacingAndGlyphs" stroke="#484848" stroke-width="0.15">関</text>
<text x="-96.9" y="0.0" font-size="13.3" fill="#484848" font-weight="normal" textLength="19.5" lengthAdjust="spacingAndGlyphs" stroke="#484848" stroke-width="0.15">する</text>
<text x="-77.4" y="0.0" font-size="13.3" fill="#484848" font-weight="normal" textLength="40.6" lengthAdjust="spacingAndGlyphs" stroke="#484848" stroke-width="0.15">情報③</text>
<text x="-36.8" y="0.0" font-size="13.3" fill="#484848" font-weight="normal" textLength="9.7" lengthAdjust="spacingAndGlyphs" stroke="#484848" stroke-width="0.15">の</text>
<text x="-27.1" y="0.0" font-size="13.3" fill="#484848" font-weight="normal" textLength="27.1" lengthAdjust="spacingAndGlyphs" stroke="#484848" stroke-width="0.15">伝達</text>
</g>
<g transform="translate(1045.3 520.7) rotate(-45)">
<text x="-115.7" y="0.0" font-size="13.3" fill="#484848" font-weight="normal" textLength="79.6" lengthAdjust="spacingAndGlyphs" stroke="#484848" stroke-width="0.15">差別化要素①</text>
<text x="-36.1" y="0.0" font-size="13.3" fill="#484848" font-weight="normal" textLength="9.5" lengthAdjust="spacingAndGlyphs" stroke="#484848" stroke-width="0.15">の</text>
<text x="-26.5" y="0.0" font-size="13.3" fill="#484848" font-weight="normal" textLength="26.5" lengthAdjust="spacingAndGlyphs" stroke="#484848" stroke-width="0.15">伝達</text>
</g>
<g transform="translate(1082.0 520.7) rotate(-45)">
<text x="-115.4" y="0.0" font-size="13.3" fill="#484848" font-weight="normal" textLength="79.4" lengthAdjust="spacingAndGlyphs" stroke="#484848" stroke-width="0.15">差別化要素②</text>
<text x="-36.0" y="0.0" font-size="13.3" fill="#484848" font-weight="normal" textLength="9.5" lengthAdjust="spacingAndGlyphs" stroke="#484848" stroke-width="0.15">の</text>
<text x="-26.5" y="0.0" font-size="13.3" fill="#484848" font-weight="normal" textLength="26.5" lengthAdjust="spacingAndGlyphs" stroke="#484848" stroke-width="0.15">伝達</text>
</g>
<g transform="translate(1118.7 520.7) rotate(-45)">
<text x="-207.7" y="0.0" font-size="13.3" fill="#484848" font-weight="normal" textLength="40.6" lengthAdjust="spacingAndGlyphs" stroke="#484848" stroke-width="0.15">利便性</text>
<text x="-167.2" y="0.0" font-size="13.3" fill="#484848" font-weight="normal" textLength="6.5" lengthAdjust="spacingAndGlyphs" stroke="#484848" stroke-width="0.15">・</text>
<text x="-160.7" y="0.0" font-size="13.3" fill="#484848" font-weight="normal" textLength="40.6" lengthAdjust="spacingAndGlyphs" stroke="#484848" stroke-width="0.15">簡便性</text>
<text x="-120.1" y="0.0" font-size="13.3" fill="#484848" font-weight="normal" textLength="9.7" lengthAdjust="spacingAndGlyphs" stroke="#484848" stroke-width="0.15">に</text>
<text x="-110.4" y="0.0" font-size="13.3" fill="#484848" font-weight="normal" textLength="13.5" lengthAdjust="spacingAndGlyphs" stroke="#484848" stroke-width="0.15">関</text>
<text x="-96.8" y="0.0" font-size="13.3" fill="#484848" font-weight="normal" textLength="19.5" lengthAdjust="spacingAndGlyphs" stroke="#484848" stroke-width="0.15">する</text>
<text x="-77.4" y="0.0" font-size="13.3" fill="#484848" font-weight="normal" textLength="40.6" lengthAdjust="spacingAndGlyphs" stroke="#484848" stroke-width="0.15">情報①</text>
<text x="-36.8" y="0.0" font-size="13.3" fill="#484848" font-weight="normal" textLength="9.7" lengthAdjust="spacingAndGlyphs" stroke="#484848" stroke-width="0.15">の</text>
<text x="-27.0" y="0.0" font-size="13.3" fill="#484848" font-weight="normal" textLength="27.0" lengthAdjust="spacingAndGlyphs" stroke="#484848" stroke-width="0.15">伝達</text>
</g>
<g transform="translate(1155.3 520.7) rotate(-45)">
<text x="-207.6" y="0.0" font-size="13.3" fill="#484848" font-weight="normal" textLength="40.5" lengthAdjust="spacingAndGlyphs" stroke="#484848" stroke-width="0.15">利便性</text>
<text x="-167.0" y="0.0" font-size="13.3" fill="#484848" font-weight="normal" textLength="6.5" lengthAdjust="spacingAndGlyphs" stroke="#484848" stroke-width="0.15">・</text>
<text x="-160.5" y="0.0" font-size="13.3" fill="#484848" font-weight="normal" textLength="40.5" lengthAdjust="spacingAndGlyphs" stroke="#484848" stroke-width="0.15">簡便性</text>
<text x="-120.0" y="0.0" font-size="13.3" fill="#484848" font-weight="normal" textLength="9.7" lengthAdjust="spacingAndGlyphs" stroke="#484848" stroke-width="0.15">に</text>
<text x="-110.3" y="0.0" font-size="13.3" fill="#484848" font-weight="normal" textLength="13.5" lengthAdjust="spacingAndGlyphs" stroke="#484848" stroke-width="0.15">関</text>
<text x="-96.8" y="0.0" font-size="13.3" fill="#484848" font-weight="normal" textLength="19.5" lengthAdjust="spacingAndGlyphs" stroke="#484848" stroke-width="0.15">する</text>
<text x="-77.3" y="0.0" font-size="13.3" fill="#484848" font-weight="normal" textLength="40.5" lengthAdjust="spacingAndGlyphs" stroke="#484848" stroke-width="0.15">情報②</text>
<text x="-36.8" y="0.0" font-size="13.3" fill="#484848" font-weight="normal" textLength="9.7" lengthAdjust="spacingAndGlyphs" stroke="#484848" stroke-width="0.15">の</text>
<text x="-27.0" y="0.0" font-size="13.3" fill="#484848" font-weight="normal" textLength="27.0" lengthAdjust="spacingAndGlyphs" stroke="#484848" stroke-width="0.15">伝達</text>
</g>
<g transform="translate(1192.0 520.7) rotate(-45)">
<text x="-251.9" y="0.0" font-size="13.3" fill="#484848" font-weight="normal" textLength="40.5" lengthAdjust="spacingAndGlyphs" stroke="#484848" stroke-width="0.15">経済性</text>
<text x="-211.4" y="0.0" font-size="13.3" fill="#484848" font-weight="normal" textLength="4.9" lengthAdjust="spacingAndGlyphs" stroke="#484848" stroke-width="0.15">(</text>
<text x="-206.5" y="0.0" font-size="13.3" fill="#484848" font-weight="normal" textLength="27.0" lengthAdjust="spacingAndGlyphs" stroke="#484848" stroke-width="0.15">薬価</text>
<text x="-179.5" y="0.0" font-size="13.3" fill="#484848" font-weight="normal" textLength="6.7" lengthAdjust="spacingAndGlyphs" stroke="#484848" stroke-width="0.15">、</text>
<text x="-172.8" y="0.0" font-size="13.3" fill="#484848" font-weight="normal" textLength="67.5" lengthAdjust="spacingAndGlyphs" stroke="#484848" stroke-width="0.15">医療経済的</text>
<text x="-105.3" y="0.0" font-size="13.3" fill="#484848" font-weight="normal" textLength="9.7" lengthAdjust="spacingAndGlyphs" stroke="#484848" stroke-width="0.15">な</text>
<text x="-95.6" y="0.0" font-size="13.3" fill="#484848" font-weight="normal" textLength="27.0" lengthAdjust="spacingAndGlyphs" stroke="#484848" stroke-width="0.15">側面</text>
<text x="-68.6" y="0.0" font-size="13.3" fill="#484848" font-weight="normal" textLength="4.9" lengthAdjust="spacingAndGlyphs" stroke="#484848" stroke-width="0.15">)</text>
<text x="-63.7" y="0.0" font-size="13.3" fill="#484848" font-weight="normal" textLength="9.7" lengthAdjust="spacingAndGlyphs" stroke="#484848" stroke-width="0.15">の</text>
<text x="-54.0" y="0.0" font-size="13.3" fill="#484848" font-weight="normal" textLength="54.0" lengthAdjust="spacingAndGlyphs" stroke="#484848" stroke-width="0.15">情報提供</text>
</g>
<g transform="translate(1238.9 510.4) rotate(-45)">
<text x="-265.4" y="0.0" font-size="13.3" fill="#484848" font-weight="normal" textLength="55.2" lengthAdjust="spacingAndGlyphs" stroke="#484848" stroke-width="0.15">地域連携</text>
<text x="-210.2" y="0.0" font-size="13.3" fill="#484848" font-weight="normal" textLength="6.6" lengthAdjust="spacingAndGlyphs" stroke="#484848" stroke-width="0.15">・</text>
<text x="-203.6" y="0.0" font-size="13.3" fill="#484848" font-weight="normal" textLength="55.2" lengthAdjust="spacingAndGlyphs" stroke="#484848" stroke-width="0.15">病診連携</text>
<text x="-148.4" y="0.0" font-size="13.3" fill="#484848" font-weight="normal" textLength="39.7" lengthAdjust="spacingAndGlyphs" stroke="#484848" stroke-width="0.15">における</text>
<text x="-108.7" y="0.0" font-size="13.3" fill="#484848" font-weight="normal" textLength="27.6" lengthAdjust="spacingAndGlyphs" stroke="#484848" stroke-width="0.15">薬剤</text>
<text x="-81.1" y="0.0" font-size="13.3" fill="#484848" font-weight="normal" textLength="9.9" lengthAdjust="spacingAndGlyphs" stroke="#484848" stroke-width="0.15">の</text>
<text x="-71.2" y="0.0" font-size="13.3" fill="#484848" font-weight="normal" textLength="27.6" lengthAdjust="spacingAndGlyphs" stroke="#484848" stroke-width="0.15">位置</text>
<text x="-43.6" y="0.0" font-size="13.3" fill="#484848" font-weight="normal" textLength="29.8" lengthAdjust="spacingAndGlyphs" stroke="#484848" stroke-width="0.15">づけの</text>
<text x="-13.8" y="0.0" font-size="13.3" fill="#484848" font-weight="normal" textLength="13.8" lengthAdjust="spacingAndGlyphs" stroke="#484848" stroke-width="0.15">…</text>
</g>
<g transform="translate(1265.3 520.7) rotate(-45)">
<text x="-102.4" y="0.0" font-size="13.3" fill="#484848" font-weight="normal" textLength="66.3" lengthAdjust="spacingAndGlyphs" stroke="#484848" stroke-width="0.15">説明会実施</text>
<text x="-36.1" y="0.0" font-size="13.3" fill="#484848" font-weight="normal" textLength="9.6" lengthAdjust="spacingAndGlyphs" stroke="#484848" stroke-width="0.15">の</text>
<text x="-26.5" y="0.0" font-size="13.3" fill="#484848" font-weight="normal" textLength="26.5" lengthAdjust="spacingAndGlyphs" stroke="#484848" stroke-width="0.15">依頼</text>
</g>
<g transform="translate(1302.0 520.7) rotate(-45)">
<text x="-163.3" y="0.0" font-size="13.3" fill="#484848" font-weight="normal" textLength="53.7" lengthAdjust="spacingAndGlyphs" stroke="#484848" stroke-width="0.15">候補症例</text>
<text x="-109.6" y="0.0" font-size="13.3" fill="#484848" font-weight="normal" textLength="19.3" lengthAdjust="spacingAndGlyphs" stroke="#484848" stroke-width="0.15">への</text>
<text x="-90.2" y="0.0" font-size="13.3" fill="#484848" font-weight="normal" textLength="53.7" lengthAdjust="spacingAndGlyphs" stroke="#484848" stroke-width="0.15">検査実施</text>
<text x="-36.5" y="0.0" font-size="13.3" fill="#484848" font-weight="normal" textLength="9.7" lengthAdjust="spacingAndGlyphs" stroke="#484848" stroke-width="0.15">の</text>
<text x="-26.9" y="0.0" font-size="13.3" fill="#484848" font-weight="normal" textLength="26.9" lengthAdjust="spacingAndGlyphs" stroke="#484848" stroke-width="0.15">依頼</text>
</g>
<g transform="translate(1338.6 520.7) rotate(-45)">
<text x="-111.8" y="0.0" font-size="13.3" fill="#484848" font-weight="normal" textLength="52.4" lengthAdjust="spacingAndGlyphs" stroke="#484848" stroke-width="0.15">候補症例</text>
<text x="-59.4" y="0.0" font-size="13.3" fill="#484848" font-weight="normal" textLength="18.9" lengthAdjust="spacingAndGlyphs" stroke="#484848" stroke-width="0.15">への</text>
<text x="-40.6" y="0.0" font-size="13.3" fill="#484848" font-weight="normal" textLength="14.4" lengthAdjust="spacingAndGlyphs" stroke="#484848" stroke-width="0.15">IC</text>
<text x="-26.2" y="0.0" font-size="13.3" fill="#484848" font-weight="normal" textLength="26.2" lengthAdjust="spacingAndGlyphs" stroke="#484848" stroke-width="0.15">依頼</text>
</g>
<g transform="translate(1375.3 520.7) rotate(-45)">
<text x="-125.4" y="0.0" font-size="13.3" fill="#484848" font-weight="normal" textLength="53.1" lengthAdjust="spacingAndGlyphs" stroke="#484848" stroke-width="0.15">候補症例</text>
<text x="-72.2" y="0.0" font-size="13.3" fill="#484848" font-weight="normal" textLength="19.1" lengthAdjust="spacingAndGlyphs" stroke="#484848" stroke-width="0.15">への</text>
<text x="-53.1" y="0.0" font-size="13.3" fill="#484848" font-weight="normal" textLength="53.1" lengthAdjust="spacingAndGlyphs" stroke="#484848" stroke-width="0.15">処方依頼</text>
</g>
<rect x="243.8" y="694.9" width="184.5" height="30.8" fill="#FAF8F6"/>
<rect x="257.1" y="726.6" width="156.89999999999998" height="25" fill="#FAF8F6"/>
<text x="245.0" y="720.6" font-size="27.2" fill="#555" font-weight="normal" text-anchor="start" textLength="78.5" lengthAdjust="spacingAndGlyphs" stroke="#555" stroke-width="0.85">ニーズ</text>
<text x="323.5" y="720.6" font-size="27.2" fill="#555" font-weight="normal" text-anchor="start" textLength="104.0" lengthAdjust="spacingAndGlyphs" stroke="#555" stroke-width="0.85">想起戦術</text>
<text x="259.7" y="746.7" font-size="20.0" fill="#595959" font-weight="normal" text-anchor="start" textLength="152.5" lengthAdjust="spacingAndGlyphs" stroke="#595959" stroke-width="0.3">アンカリング効果</text>
<rect x="658.2" y="694.9" width="232.79999999999995" height="30.8" fill="#FAF8F6"/>
<rect x="697.7" y="726.6" width="156.29999999999995" height="25" fill="#FAF8F6"/>
<text x="658.6" y="720.6" font-size="27.2" fill="#555" font-weight="normal" text-anchor="start" textLength="52.8" lengthAdjust="spacingAndGlyphs" stroke="#555" stroke-width="0.85">製品</text>
<text x="711.4" y="720.6" font-size="27.2" fill="#555" font-weight="normal" text-anchor="start" textLength="125.6" lengthAdjust="spacingAndGlyphs" stroke="#555" stroke-width="0.85">メッセージ</text>
<text x="837.0" y="720.6" font-size="27.2" fill="#555" font-weight="normal" text-anchor="start" textLength="54.0" lengthAdjust="spacingAndGlyphs" stroke="#555" stroke-width="0.85">戦術</text>
<text x="700.3" y="746.7" font-size="20.0" fill="#595959" font-weight="normal" text-anchor="start" textLength="151.9" lengthAdjust="spacingAndGlyphs" stroke="#595959" stroke-width="0.3">フレーミング効果</text>
<rect x="1160" y="694.9" width="217.5999999999999" height="30.8" fill="#FAF8F6"/>
<rect x="1190.4" y="726.6" width="158.39999999999986" height="25" fill="#FAF8F6"/>
<text x="1161.0" y="720.6" font-size="27.2" fill="#555" font-weight="normal" text-anchor="start" textLength="163.6" lengthAdjust="spacingAndGlyphs" stroke="#555" stroke-width="0.85">コミットメント</text>
<text x="1324.6" y="720.6" font-size="27.2" fill="#555" font-weight="normal" text-anchor="start" textLength="53.0" lengthAdjust="spacingAndGlyphs" stroke="#555" stroke-width="0.85">戦術</text>
<text x="1193.0" y="746.7" font-size="20.0" fill="#595959" font-weight="normal" text-anchor="start" textLength="154.0" lengthAdjust="spacingAndGlyphs" stroke="#595959" stroke-width="0.3">クロージング効果</text>
<text x="17.5" y="778.6" font-size="9.7" fill="#858585" font-weight="normal" text-anchor="start" textLength="227.0" lengthAdjust="spacingAndGlyphs">Copyright© Leap Co., Ltd.  All rights reserved.</text>
<text x="37.2" y="792.6" font-size="10.2" fill="#000" font-weight="normal" textLength="12.0" lengthAdjust="spacingAndGlyphs" stroke="#000" stroke-width="0.2">本</text>
<text x="49.2" y="792.6" font-size="10.2" fill="#000" font-weight="normal" textLength="36.5" lengthAdjust="spacingAndGlyphs" stroke="#000" stroke-width="0.2">セミナー</text>
<text x="85.7" y="792.6" font-size="10.2" fill="#000" font-weight="normal" textLength="8.6" lengthAdjust="spacingAndGlyphs" stroke="#000" stroke-width="0.2">の</text>
<text x="94.4" y="792.6" font-size="10.2" fill="#000" font-weight="normal" textLength="24.0" lengthAdjust="spacingAndGlyphs" stroke="#000" stroke-width="0.2">録画</text>
<text x="118.4" y="792.6" font-size="10.2" fill="#000" font-weight="normal" textLength="5.8" lengthAdjust="spacingAndGlyphs" stroke="#000" stroke-width="0.2">・</text>
<text x="124.1" y="792.6" font-size="10.2" fill="#000" font-weight="normal" textLength="24.0" lengthAdjust="spacingAndGlyphs" stroke="#000" stroke-width="0.2">録音</text>
<text x="148.1" y="792.6" font-size="10.2" fill="#000" font-weight="normal" textLength="5.8" lengthAdjust="spacingAndGlyphs" stroke="#000" stroke-width="0.2">・</text>
<text x="153.9" y="792.6" font-size="10.2" fill="#000" font-weight="normal" textLength="54.7" lengthAdjust="spacingAndGlyphs" stroke="#000" stroke-width="0.2">スクリーンシ</text>
<text x="208.7" y="792.6" font-size="10.2" fill="#000" font-weight="normal" textLength="14.9" lengthAdjust="spacingAndGlyphs" stroke="#000" stroke-width="0.2">ョッ</text>
<text x="223.5" y="792.6" font-size="10.2" fill="#000" font-weight="normal" textLength="9.1" lengthAdjust="spacingAndGlyphs" stroke="#000" stroke-width="0.2">ト</text>
<text x="232.7" y="792.6" font-size="10.2" fill="#000" font-weight="normal" textLength="8.6" lengthAdjust="spacingAndGlyphs" stroke="#000" stroke-width="0.2">の</text>
<text x="241.3" y="792.6" font-size="10.2" fill="#000" font-weight="normal" textLength="24.0" lengthAdjust="spacingAndGlyphs" stroke="#000" stroke-width="0.2">撮影</text>
<text x="265.3" y="792.6" font-size="10.2" fill="#000" font-weight="normal" textLength="17.3" lengthAdjust="spacingAndGlyphs" stroke="#000" stroke-width="0.2">はご</text>
<text x="282.6" y="792.6" font-size="10.2" fill="#000" font-weight="normal" textLength="24.0" lengthAdjust="spacingAndGlyphs" stroke="#000" stroke-width="0.2">遠慮</text>
<text x="306.6" y="792.6" font-size="10.2" fill="#000" font-weight="normal" textLength="34.6" lengthAdjust="spacingAndGlyphs" stroke="#000" stroke-width="0.2">ください</text>
<rect x="19.6" y="783.6" width="5.4" height="9" rx="0.8" fill="#8a8a8a" stroke="#666" stroke-width="0.6"/>
<g fill="none" stroke="#EE4D5E" stroke-width="1.8"><circle cx="22.5" cy="787.8" r="6.9"/><path d="M17.6 782.9L27.4 792.7"/></g>
<text x="1386.0" y="784.3" font-size="14.2" fill="#8A8683" font-weight="normal" text-anchor="start" textLength="17.0" lengthAdjust="spacingAndGlyphs">15</text>
</svg>
</body></html>
